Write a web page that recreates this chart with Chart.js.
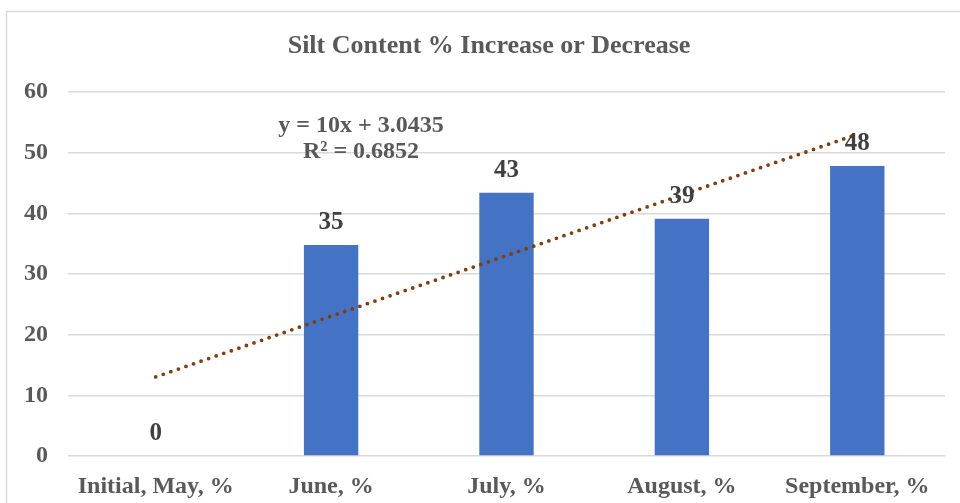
<!DOCTYPE html>
<html lang="en">
<head>
  <title>Silt Content % Increase or Decrease</title>
  <script src="https://cdn.jsdelivr.net/npm/chart.js"></script>
  <style>
    html, body { margin: 0; padding: 0; background: #fff; }
  </style>
</head>
<body>
<canvas id="siltChart" width="960" height="503"></canvas>
<script>
  const categories = ['Initial, May, %', 'June, %', 'July, %', 'August, %', 'September, %'];
  const siltValues = [0, 34.8, 43.4, 39.1, 47.8];
  const valueLabels = ['0', '35', '43', '39', '48'];
  // linear trend, at each category
  const trendValues = [13.04, 23.04, 33.04, 43.04, 53.04];
  const trendText = ['y = 10x + 3.0435', 'R\u00b2 = 0.6852'];
  const yTicks = [0, 10, 20, 30, 40, 50, 60];

  const serif = '"Liberation Serif", "Times New Roman", serif';

  // frame, title, equation and value labels
  const decorations = {
    id: 'decorations',
    beforeDraw(chart) {
      const ctx = chart.ctx;
      ctx.save();
      ctx.strokeStyle = '#d9d9d9';
      ctx.lineWidth = 1.5;
      ctx.strokeRect(6.5, 11.5, 1000, 600);
      ctx.restore();
    },
    afterDatasetsDraw(chart) {
      const ctx = chart.ctx;
      ctx.save();
      ctx.textAlign = 'center';
      ctx.textBaseline = 'alphabetic';

      ctx.fillStyle = '#595959';
      ctx.font = 'bold 26px ' + serif;
      ctx.fillText('Silt Content % Increase or Decrease', 489, 53);

      ctx.font = 'bold 24px ' + serif;
      ctx.fillText(trendText[0], 361, 132);
      ctx.fillText(trendText[1], 361, 158);

      const bars = chart.getDatasetMeta(0).data;
      ctx.fillStyle = '#404040';
      ctx.font = 'bold 25px ' + serif;
      bars.forEach((bar, i) => {
        ctx.fillText(valueLabels[i], bar.x, bar.y - 16);
      });
      ctx.restore();
    }
  };

  new Chart(document.getElementById('siltChart'), {
    data: {
      labels: categories,
      datasets: [
        {
          type: 'bar',
          data: siltValues,
          backgroundColor: '#4472c4',
          borderWidth: 0,
          categoryPercentage: 1,
          barPercentage: 0.31,
          order: 2
        },
        {
          type: 'line',
          data: trendValues,
          borderColor: '#843c0c',
          borderWidth: 3.8,
          borderDash: [0, 8],
          borderCapStyle: 'round',
          pointRadius: 0,
          fill: false,
          order: 1
        }
      ]
    },
    options: {
      responsive: false,
      animation: false,
      devicePixelRatio: 1,
      layout: { padding: { top: 92, right: 15, left: 0, bottom: 0 } },
      plugins: {
        legend: { display: false },
        tooltip: { enabled: false }
      },
      scales: {
        x: {
          grid: { display: false },
          border: { display: false },
          ticks: {
            color: '#595959',
            font: { family: serif, size: 24, weight: 'bold' },
            maxRotation: 0,
            autoSkip: false,
            padding: 8
          },
          afterFit(scale) { scale.height = 47; }
        },
        y: {
          min: 0,
          max: 60,
          afterBuildTicks(scale) { scale.ticks = yTicks.map(v => ({ value: v })); },
          grid: { color: '#d9d9d9', lineWidth: 1.5, drawTicks: false },
          border: { display: false },
          ticks: {
            color: '#595959',
            font: { family: serif, size: 24, weight: 'bold' },
            padding: 20
          },
          afterFit(scale) { scale.width = 68; }
        }
      }
    },
    plugins: [decorations]
  });
</script>
</body>
</html>
